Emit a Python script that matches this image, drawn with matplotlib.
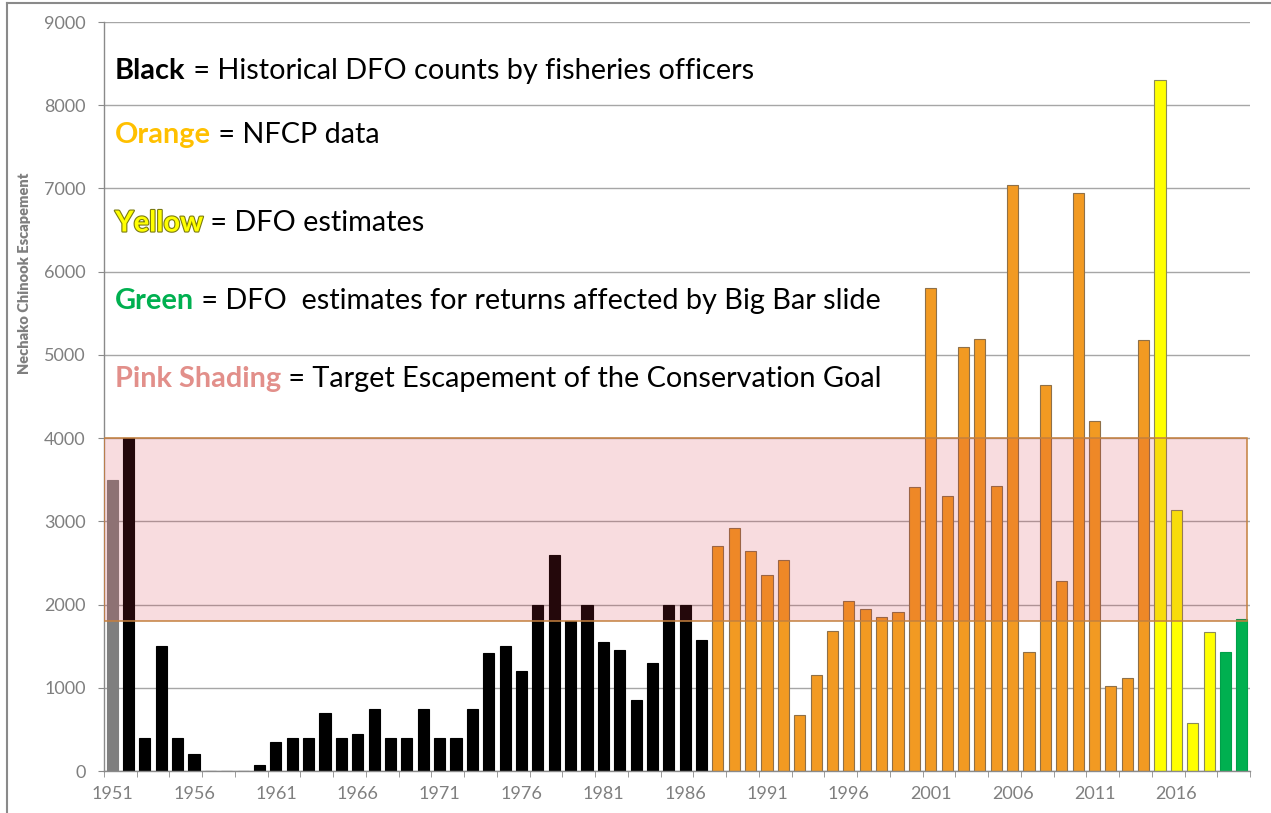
import numpy as np
import matplotlib
matplotlib.use('Agg')
import matplotlib.pyplot as plt
import matplotlib.patheffects as pe
from matplotlib.patches import Rectangle
from matplotlib.lines import Line2D

# ========= DATA =========

years = list(range(1951, 2021))

escapement = [
    3500, 4000, 400, 1500, 400, 200, 0, 0, 0, 75,          # 1951-1960
    350, 400, 400, 700, 400, 450, 750, 400, 400, 750,       # 1961-1970
    400, 400, 750, 1420, 1500, 1200, 2000, 2600, 1800, 2000,  # 1971-1980
    1550, 1450, 850, 1300, 2000, 2000, 1580, 2700, 2920, 2640,  # 1981-1990
    2360, 2530, 670, 1150, 1680, 2040, 1950, 1850, 1910, 3410,  # 1991-2000
    5800, 3300, 5100, 5190, 3430, 7040, 1430, 4640, 2280, 6940,  # 2001-2010
    4210, 1020, 1120, 5180, 8300, 3140, 580, 1670, 1430, 1830,  # 2011-2020
]

# data source of each year
source = (['first'] + ['historical'] * 36 + ['nfcp'] * 27
          + ['dfo'] * 4 + ['bigbar'] * 2)

target_low = 1800
target_high = 4000

legend_lines = [
    ("Black", " = Historical DFO counts by fisheries officers"),
    ("Orange", " = NFCP data"),
    ("Yellow", " = DFO estimates"),
    ("Green", " = DFO  estimates for returns affected by Big Bar slide"),
    ("Pink Shading", " = Target Escapement of the Conservation Goal"),
]

# ========= STYLE =========

fill = {'first': '#7f7f7f', 'historical': '#000000', 'nfcp': '#f29a22',
        'dfo': '#ffff00', 'bigbar': '#00b050'}
edge = {'first': '#7f7f7f', 'historical': '#000000', 'nfcp': '#8f7048',
        'dfo': '#8a8a5a', 'bigbar': '#00a04a'}
word_color = ['#000000', '#ffc000', '#ffff00', '#00b050', '#e28f8a']
line_y = [0.935, 0.8485, 0.731, 0.627, 0.524]

axis_gray = '#8a8a8a'
label_gray = '#7f7f7f'
plt.rcParams['font.family'] = ['Lato', 'DejaVu Sans']

# ========= PLOT =========

fig = plt.figure(figsize=(12.71, 8.13), dpi=100)
ax = fig.add_axes([104 / 1271, 42 / 813, 1146 / 1271, 749 / 813])

x = np.arange(len(years))
ax.bar(x, escapement, width=0.68,
       color=[fill[s] for s in source],
       edgecolor=[edge[s] for s in source],
       linewidth=0.8, zorder=2)

# target band drawn over the bars
ax.add_patch(Rectangle((-0.5, target_low), len(years) - 0.2, target_high - target_low,
                       facecolor=(0.86, 0.2, 0.26, 0.17),
                       edgecolor='#c4803e', linewidth=1.1, zorder=3))

ax.set_xlim(-0.5, len(years) - 0.5)
ax.set_ylim(0, 9000)
ax.set_yticks(range(0, 9001, 1000))
ax.yaxis.grid(True, color='#a6a6a6', linewidth=1)
ax.set_axisbelow(True)

label_idx = [i for i, y in enumerate(years) if (y - years[0]) % 5 == 0]
ax.set_xticks(label_idx)
ax.set_xticklabels([str(years[i]) for i in label_idx])
ax.set_xticks(np.arange(-0.5, len(years), 2), minor=True)
ax.tick_params(axis='x', which='major', length=0, pad=11,
               labelsize=13, labelcolor=label_gray)
ax.tick_params(axis='x', which='minor', length=4.5, color=axis_gray, direction='out')
ax.tick_params(axis='y', length=4.3, color=axis_gray, pad=9,
               labelsize=13, labelcolor=label_gray)

for side in ['top', 'right']:
    ax.spines[side].set_visible(False)
for side in ['left', 'bottom']:
    ax.spines[side].set_color(axis_gray)
    ax.spines[side].set_linewidth(1)

ax.set_ylabel('Nechako Chinook Escapement', fontsize=10.5, fontweight='heavy',
              color=label_gray)
ax.yaxis.set_label_coords(-0.064, 0.664)

# colour key written inside the plot
for (word, rest), col, yy in zip(legend_lines, word_color, line_y):
    t1 = ax.text(0.0096, yy, word, transform=ax.transAxes, fontsize=20.8,
                 fontweight='bold', color=col, va='center', ha='left', zorder=5)
    if word == 'Yellow':
        t1.set_path_effects([pe.Stroke(linewidth=1.6, foreground='#7a7a10'), pe.Normal()])
    ax.annotate(rest, xy=(1, 0), xycoords=t1, va='bottom', ha='left',
                fontsize=20.8, color='black', zorder=5)

# outer frame (left and top edges)
fig.add_artist(Line2D([6.5 / 1271, 6.5 / 1271], [0, 1 - 3.5 / 813],
                      transform=fig.transFigure, color='#8a8a8a', linewidth=1.5))
fig.add_artist(Line2D([6.5 / 1271, 1], [1 - 3.5 / 813, 1 - 3.5 / 813],
                      transform=fig.transFigure, color='#8a8a8a', linewidth=1.5))

fig.savefig('out.png', dpi=100)
